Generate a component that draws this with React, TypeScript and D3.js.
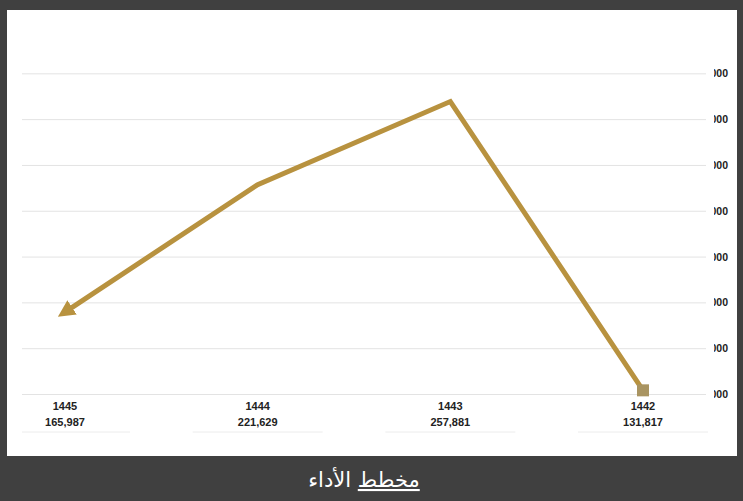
import React from "react";
import * as d3 from "d3";

const years = ["1445", "1444", "1443", "1442"];
const values = [165987, 221629, 257881, 131817];
const tickValues = [130000, 150000, 170000, 190000, 210000, 230000, 250000, 270000];
const title = "مخطط الأداء";
const titleWord1 = "مخطط";
const titleWord2 = " الأداء";

export default function App() {
  const W = 743, H = 501;
  const x = d3.scalePoint<string>().domain(years).range([65, 643]);
  const y = d3.scaleLinear().domain([130000, 290000]).range([394.5, 28]);
  const pts: [number, number][] = years.map((c, i) => [x(c)!, y(values[i])]);
  const line = d3.line<[number, number]>()(pts) || "";
  const fmt = d3.format(",");
  const color = "#b8923f";
  const last = pts[pts.length - 1];
  const lblFont = "'Liberation Sans Narrow', 'Liberation Sans', Arial, sans-serif";
  return (
    <svg width={W} height={H} style={{ position: "fixed", left: 0, top: 0 }} fontFamily="'Liberation Sans', Arial, sans-serif">
      <defs>
        <marker id="arr" viewBox="0 0 10 10" refX="5" refY="5" markerWidth="3.4" markerHeight="3.4" orient="auto-start-reverse" markerUnits="strokeWidth">
          <path d="M0,0 L10,5 L0,10 z" fill={color} />
        </marker>
        <clipPath id="lblclip">
          <rect x={714} y={0} width={40} height={H} />
        </clipPath>
      </defs>
      <rect x={0} y={0} width={W} height={H} fill="#404040" />
      <rect x={7} y={10} width={730} height={446} fill="#ffffff" />
      {tickValues.map((t) => (
        <line key={t} x1={22} x2={706} y1={y(t)} y2={y(t)} stroke="#e3e3e3" strokeWidth={1} />
      ))}
      <g clipPath="url(#lblclip)">
        {tickValues.map((t) => (
          <text key={t} x={728} y={y(t) + 3.5} textAnchor="end" fontSize={10.5} fontWeight="bold" fill="#222">
            {fmt(t)}
          </text>
        ))}
      </g>
      {years.map((c) => (
        <line key={"u" + c} x1={Math.max(22, x(c)! - 65)} x2={x(c)! + 65} y1={432} y2={432} stroke="#ececec" strokeWidth={1} />
      ))}
      <path d={line} fill="none" stroke={color} strokeWidth={5} strokeLinejoin="miter" markerStart="url(#arr)" />
      <rect x={last[0] - 6} y={last[1] - 6} width={12} height={12} fill="#a99461" />
      {years.map((c, i) => (
        <g key={c}>
          <text x={x(c)} y={410} textAnchor="middle" fontSize={11} fontWeight="bold" fill="#222" fontFamily={lblFont}>{c}</text>
          <text x={x(c)} y={426} textAnchor="middle" fontSize={11} fontWeight="bold" fill="#222" fontFamily={lblFont}>{fmt(values[i])}</text>
        </g>
      ))}
      <text x={364} y={487} textAnchor="middle" fontSize={21} fill="#ffffff" direction="rtl" fontFamily="'DejaVu Sans', 'Noto Sans', sans-serif" aria-label={title}>
        <tspan textDecoration="underline">{titleWord1}</tspan>
        <tspan>{titleWord2}</tspan>
      </text>
    </svg>
  );
}
